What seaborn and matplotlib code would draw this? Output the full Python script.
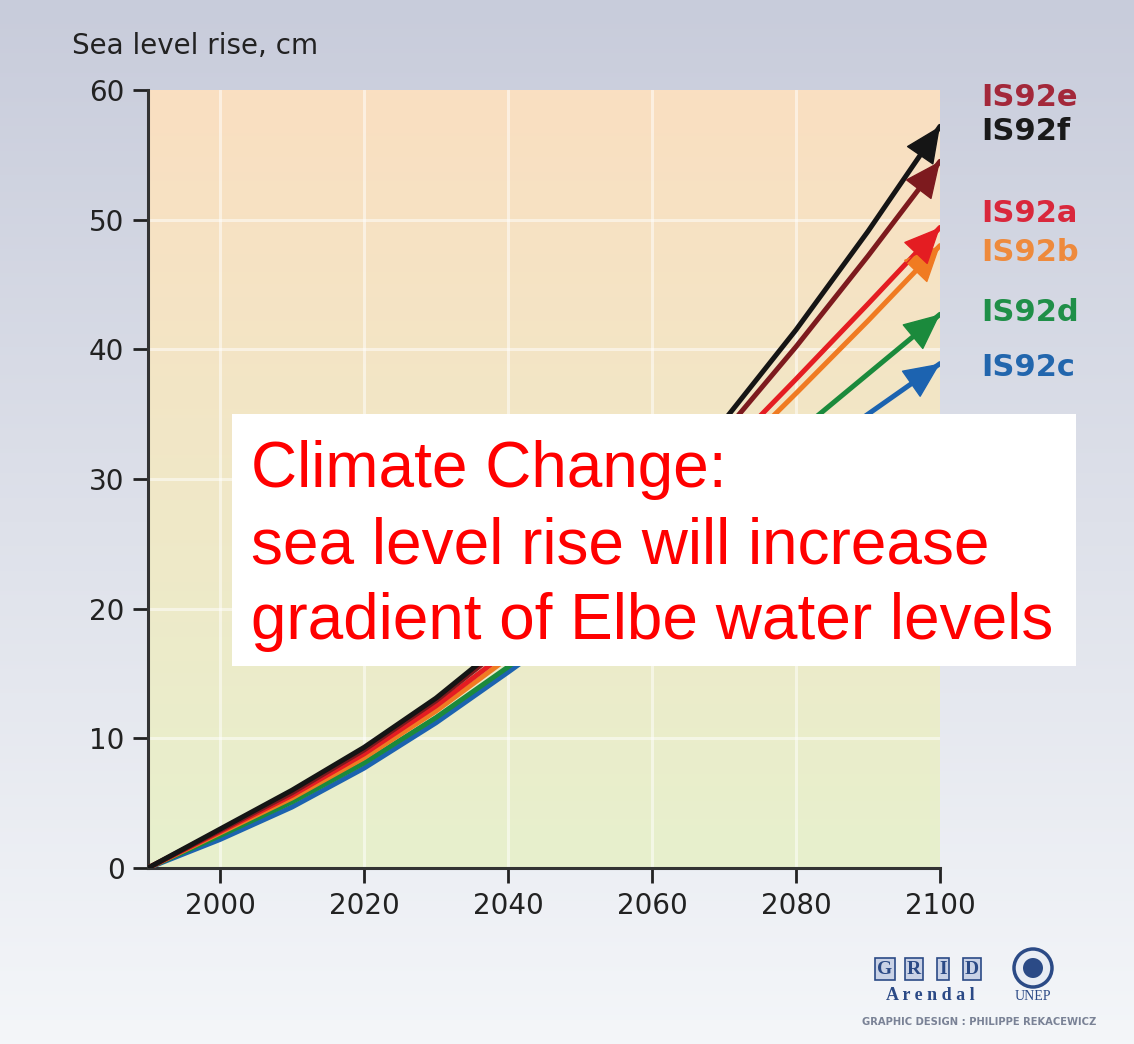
import numpy as np
import pandas as pd
import matplotlib
matplotlib.use("Agg")
import matplotlib.pyplot as plt
import seaborn as sns
from matplotlib.patches import Rectangle, Circle

# sea level rise (cm), every 10 years
years = [1990, 2000, 2010, 2020, 2030, 2040, 2050, 2060, 2070, 2080, 2090, 2100]
is92f = [0, 3.0, 6.0, 9.3, 13.1, 17.6, 22.7, 28.3, 34.5, 41.5, 49.1, 57.2]
is92e = [0, 2.9, 5.8, 9.1, 12.9, 17.3, 22.2, 27.6, 33.6, 40.2, 47.2, 54.5]
is92a = [0, 2.8, 5.6, 8.8, 12.5, 16.7, 21.4, 26.5, 32.0, 37.7, 43.5, 49.4]
is92b = [0, 2.7, 5.4, 8.5, 12.1, 16.2, 20.8, 25.8, 31.1, 36.6, 42.2, 48.0]
is92d = [0, 2.5, 5.1, 8.1, 11.6, 15.5, 19.8, 24.3, 28.9, 33.5, 38.1, 42.7]
is92c = [0, 2.2, 4.7, 7.7, 11.2, 15.1, 19.1, 23.1, 27.1, 31.1, 35.0, 38.9]

scenarios = ['IS92c', 'IS92d', 'IS92b', 'IS92a', 'IS92e', 'IS92f']
series = [is92c, is92d, is92b, is92a, is92e, is92f]
line_colors = {'IS92f': '#151515', 'IS92e': '#7d1a1e', 'IS92a': '#e41d22',
               'IS92b': '#f07b22', 'IS92d': '#1b8a3c', 'IS92c': '#1c63b0'}
label_colors = {'IS92e': '#a3283a', 'IS92f': '#1a1a1a', 'IS92a': '#d9283c',
                'IS92b': '#ee8a3c', 'IS92d': '#1f8f48', 'IS92c': '#2266ad'}
y_ticks = [0, 10, 20, 30, 40, 50, 60]
x_ticks = [2000, 2020, 2040, 2060, 2080, 2100]

df = pd.DataFrame({'year': years * len(scenarios),
                   'rise': sum(series, []),
                   'scenario': np.repeat(scenarios, len(years))})

sns.set_theme(style="white")
plt.rcParams['font.family'] = ['DejaVu Sans']

W, H = 1134, 1044
fig = plt.figure(figsize=(W / 100, H / 100), dpi=100)


def fx(px):
    return px / W


def fy(py):
    return 1 - py / H


# figure background gradient
bg = fig.add_axes([0, 0, 1, 1], zorder=-10)
grad = np.linspace(0, 1, 256)[:, None]
top = np.array([200, 204, 219]) / 255
bot = np.array([244, 246, 249]) / 255
img = top[None, None, :] * (1 - grad[:, :, None]) + bot[None, None, :] * grad[:, :, None]
bg.imshow(img, aspect='auto', extent=[0, 1, 0, 1])
bg.axis('off')

ax = fig.add_axes([fx(148), fy(868), fx(940) - fx(148), fy(90) - fy(868)])
ax.set_facecolor('none')
ptop = np.array([250, 223, 193]) / 255
pbot = np.array([231, 240, 205]) / 255
pimg = ptop[None, None, :] * (1 - grad[:, :, None]) + pbot[None, None, :] * grad[:, :, None]
ax.imshow(pimg, aspect='auto', extent=[1990, 2100, 0, 60], zorder=-1)

for xt in x_ticks[:-1]:
    ax.axvline(xt, color='white', lw=2.2, alpha=0.5, zorder=0)
for yt in y_ticks[1:-1]:
    ax.axhline(yt, color='white', lw=2.2, alpha=0.5, zorder=0)

sns.lineplot(data=df, x='year', y='rise', hue='scenario', palette=line_colors,
             hue_order=scenarios, linewidth=3.6, legend=False, ax=ax, zorder=3)

for name, s in zip(scenarios, series):
    ax.annotate('', xy=(years[-1], s[-1]), xytext=(years[-2], s[-2]),
                arrowprops=dict(arrowstyle='-|>,head_length=1.2,head_width=0.55',
                                color=line_colors[name], lw=1, mutation_scale=20,
                                shrinkA=0, shrinkB=0),
                zorder=4, annotation_clip=False)

ax.set_xlim(1990, 2100)
ax.set_ylim(0, 60)
ax.set_xticks(x_ticks)
ax.set_yticks(y_ticks)
ax.set_xlabel('')
ax.set_ylabel('')
ax.tick_params(axis='both', labelsize=20, colors='#222222', length=11, width=2,
               direction='out', pad=6, left=True, bottom=True)
for sp in ['top', 'right']:
    ax.spines[sp].set_visible(False)
for sp in ['left', 'bottom']:
    ax.spines[sp].set_color('#333333')
    ax.spines[sp].set_linewidth(2.2)

fig.text(fx(72), fy(46), 'Sea level rise, cm', fontsize=20, color='#222222',
         va='center', ha='left')

# scenario labels on the right
label_pos = {'IS92e': 97, 'IS92f': 132, 'IS92a': 213, 'IS92b': 253,
             'IS92d': 312, 'IS92c': 367}
for name, py in label_pos.items():
    fig.text(fx(981), fy(py), name, fontsize=22, fontweight='heavy',
             color=label_colors[name], va='center', ha='left')

# white text box
fig.add_artist(Rectangle((fx(232), fy(666)), fx(1076) - fx(232), fy(414) - fy(666),
                         transform=fig.transFigure, facecolor='white',
                         edgecolor='none', zorder=5))
box_lines = ['Climate Change:', 'sea level rise will increase',
             'gradient of Elbe water levels']
for txt, py in zip(box_lines, [487, 563, 639]):
    fig.text(fx(251), fy(py), txt, fontsize=46, color='#ff0000',
             family=['Liberation Sans', 'DejaVu Sans'], va='baseline',
             ha='left', zorder=6)

# GRID-Arendal / UNEP credit
for i, letter in enumerate('GRID'):
    fig.text(fx(885 + i * 29), fy(969), letter, fontsize=14, fontweight='bold',
             family=['Liberation Serif', 'DejaVu Serif'], color='#2b4a86',
             ha='center', va='center',
             bbox=dict(boxstyle='square,pad=0.12', facecolor='#c9d2e6',
                       edgecolor='#2b4a86', lw=1.2))
fig.text(fx(930), fy(995), 'A r e n d a l', fontsize=13, fontweight='bold',
         family=['Liberation Serif', 'DejaVu Serif'], color='#2b4a86',
         ha='center', va='center')
fig.add_artist(Circle((10.33, (H - 968) / 100), 0.19, transform=fig.dpi_scale_trans,
                      facecolor='#e8ecf4', edgecolor='#2b4a86', lw=2.5))
fig.add_artist(Circle((10.33, (H - 968) / 100), 0.1, transform=fig.dpi_scale_trans,
                      facecolor='#2b4a86', edgecolor='none'))
fig.text(fx(1033), fy(997), 'UNEP', fontsize=10,
         family=['Liberation Serif', 'DejaVu Serif'], color='#2b4a86',
         ha='center', va='center')
fig.text(fx(979), fy(1022), 'GRAPHIC DESIGN : PHILIPPE REKACEWICZ', fontsize=7.2,
         fontweight='bold', color='#7a8296', ha='center', va='center')

fig.savefig('out.png', dpi=100)
